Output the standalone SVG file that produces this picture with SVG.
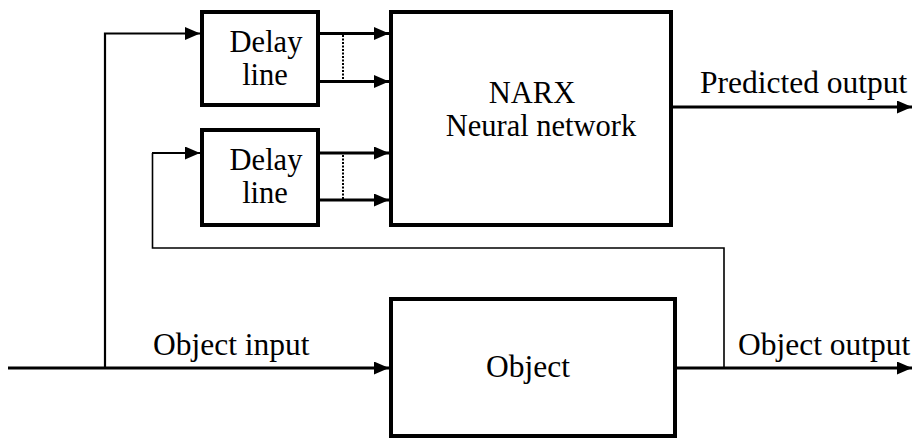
<svg xmlns="http://www.w3.org/2000/svg" width="912" height="439" viewBox="0 0 912 439">
<style>
.box{fill:#fff;stroke:#000;stroke-width:4}
.t{font-family:"Liberation Serif","Times New Roman",serif;font-size:31.5px;fill:#000}
.n{font-size:30.5px}
.m{text-anchor:middle}
.w{fill:none;stroke:#000;stroke-width:3}
.thin{fill:none;stroke:#000;stroke-width:1.6}
.dot{fill:none;stroke:#000;stroke-width:2;stroke-dasharray:2 1.5}
</style>
<defs>
<marker id="ah" markerUnits="userSpaceOnUse" markerWidth="16" markerHeight="14" refX="15" refY="6.5" orient="auto">
<path d="M0,0 L15,6.5 L0,13 z" fill="#000"/>
</marker>
</defs>
<rect width="912" height="439" fill="#fff"/>
<g id="connectors">
<path class="w" d="M8,368 H389" marker-end="url(#ah)"/>
<path class="w" style="stroke-width:2.2" d="M105,368 V33.5 H200" marker-end="url(#ah)"/>
<path class="w" d="M320,33.5 H389" marker-end="url(#ah)"/>
<path class="w" d="M320,81.5 H389" marker-end="url(#ah)"/>
<path class="dot" d="M343,35 V80"/>
<path class="thin" d="M724,368 V248 H152.5 V153"/>
<path class="w" style="stroke-width:2.2" d="M152,153 H200" marker-end="url(#ah)"/>
<path class="w" d="M320,153 H389" marker-end="url(#ah)"/>
<path class="w" d="M320,200 H389" marker-end="url(#ah)"/>
<path class="dot" d="M343,155 V199"/>
<path class="w" d="M673,107 H912" marker-end="url(#ah)"/>
<path class="w" d="M677,368 H912" marker-end="url(#ah)"/>
</g>
<g id="delay1">
<rect class="box" x="202" y="12" width="116" height="93"/>
<text class="t n m" x="266" y="52">Delay</text>
<text class="t n m" x="265" y="85">line</text>
</g>
<g id="delay2">
<rect class="box" x="202" y="130" width="116" height="95"/>
<text class="t n m" x="266" y="170">Delay</text>
<text class="t n m" x="265" y="203">line</text>
</g>
<g id="narx">
<rect class="box" x="391" y="12" width="280" height="213"/>
<text class="t n m" x="532" y="103">NARX</text>
<text class="t n m" x="541" y="136">Neural network</text>
</g>
<g id="object">
<rect class="box" x="391" y="299" width="284" height="137"/>
<text class="t m" x="528" y="377">Object</text>
</g>
<g id="labels">
<text class="t" x="153" y="355">Object input</text>
<text class="t" x="700" y="93">Predicted output</text>
<text class="t" x="738" y="355">Object output</text>
</g>
</svg>
